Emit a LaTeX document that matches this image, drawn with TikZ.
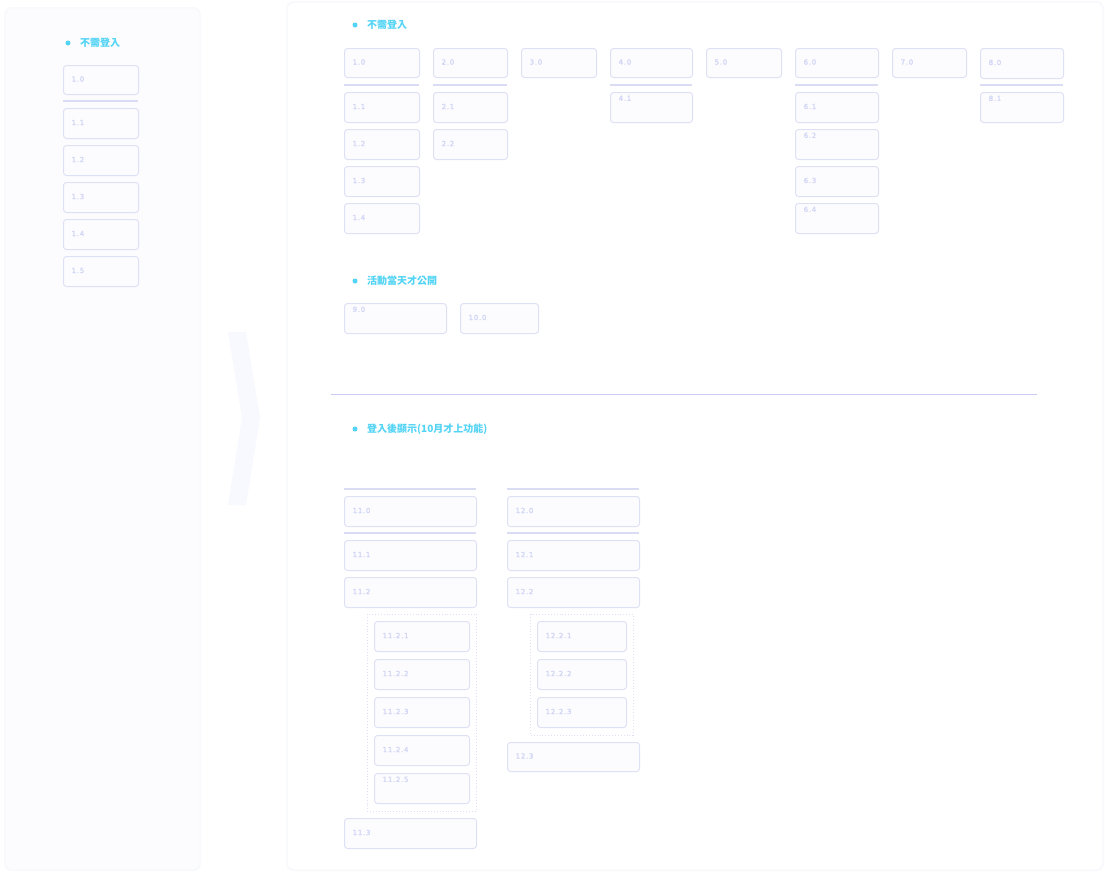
\documentclass[tikz,border=0pt]{standalone}
\usepackage{fontspec}
\setmainfont{Noto Sans CJK TC}
\newfontfamily\numfont[LetterSpace=10,FakeBold=1.5]{DejaVu Sans}
\definecolor{bord}{RGB}{222,224,246}
\definecolor{boxfill}{RGB}{252,252,255}
\definecolor{numc}{RGB}{208,213,245}
\definecolor{headc}{RGB}{84,212,245}
\definecolor{sepc}{RGB}{218,220,244}
\definecolor{divc}{RGB}{202,204,244}
\definecolor{panelc}{RGB}{252,252,254}
\definecolor{panelb}{RGB}{248,249,252}
\definecolor{chevc}{RGB}{247,249,254}
\tikzset{
  bx/.style={draw=bord, fill=boxfill, line width=1pt, rounded corners=3pt, inner sep=0pt},
  num/.style={text=numc, font=\numfont\fontsize{7}{9}\selectfont, inner sep=0pt},
  head/.style={text=headc, font=\fontsize{10}{12}\selectfont\bfseries, inner sep=0pt, anchor=west},
  dot/.style={fill=headc, circle, inner sep=0pt, minimum size=5pt},
  sepl/.style={draw=sepc, line width=1.6pt},
  dgrp/.style={draw=bord, dotted, line width=0.9pt},
}
\newcommand\bxn[6]{%
  \node[bx, anchor=north west, minimum width=\dimexpr #4pt-#2pt\relax, minimum height=\dimexpr #5pt-#3pt\relax] (#1) at (#2,#3) {};
  \node[num, anchor=west] (#1t) at ([xshift=8.5pt,yshift=1pt]#1.west) {#6};}
\newcommand\bxt[6]{%
  \node[bx, anchor=north west, minimum width=\dimexpr #4pt-#2pt\relax, minimum height=\dimexpr #5pt-#3pt\relax] (#1) at (#2,#3) {};
  \node[num, anchor=north west] (#1t) at ([xshift=8.5pt,yshift=-3.5pt]#1.north west) {#6};}
\begin{document}
\begin{tikzpicture}[x=1pt,y=-1pt]
\useasboundingbox[fill=white] (0,0) rectangle (1105,873);
% panels
\fill[panelb, rounded corners=8pt] (4,7) rectangle (201,871);
\fill[panelc, rounded corners=8pt] (5.5,8.5) rectangle (199.5,869.5);
\fill[panelb, rounded corners=8pt] (286,1) rectangle (1104,871);
\fill[white, rounded corners=8pt] (287.5,2.5) rectangle (1102.5,869.5);
% chevron
\fill[chevc] (228,332) -- (246,332) -- (260,418) -- (246,505) -- (228,505) -- (242,418) -- cycle;
% left column
\node[dot] (ld) at (68,43) {};
\node[head] (lh) at (80,43) {不需登入};
\bxn{l10}{63}{65}{138}{94}{1.0}
\draw[sepl] (63,101) -- (138,101);
\bxn{l11}{63}{108}{138}{138}{1.1}
\bxn{l12}{63}{145}{138}{175}{1.2}
\bxn{l13}{63}{182}{138}{212}{1.3}
\bxn{l14}{63}{219}{138}{249}{1.4}
\bxn{l15}{63}{256}{138}{286}{1.5}
% right section 1
\node[dot] (d1) at (355,25) {};
\node[head] (h1) at (367,25) {不需登入};
\bxn{a10}{344}{48}{419}{77}{1.0}
\bxn{a20}{433}{48}{507}{77}{2.0}
\bxn{a30}{521}{48}{596}{77}{3.0}
\bxn{a40}{610}{48}{692}{77}{4.0}
\bxn{a50}{706}{48}{781}{77}{5.0}
\bxn{a60}{795}{48}{878}{77}{6.0}
\bxn{a70}{892}{48}{966}{77}{7.0}
\bxn{a80}{980}{48}{1063}{78}{8.0}
\draw[sepl] (344,85) -- (419,85);
\draw[sepl] (433,85) -- (507,85);
\draw[sepl] (610,85) -- (692,85);
\draw[sepl] (795,85) -- (878,85);
\draw[sepl] (980,85) -- (1063,85);
\bxn{a11}{344}{92}{419}{122}{1.1}
\bxn{a21}{433}{92}{507}{122}{2.1}
\bxt{a41}{610}{92}{692}{122}{4.1}
\bxn{a61}{795}{92}{878}{122}{6.1}
\bxt{a81}{980}{92}{1063}{122}{8.1}
\bxn{a12}{344}{129}{419}{159}{1.2}
\bxn{a22}{433}{129}{507}{159}{2.2}
\bxt{a62}{795}{129}{878}{159}{6.2}
\bxn{a13}{344}{166}{419}{196}{1.3}
\bxn{a63}{795}{166}{878}{196}{6.3}
\bxn{a14}{344}{203}{419}{233}{1.4}
\bxt{a64}{795}{203}{878}{233}{6.4}
% section 2
\node[dot] (d2) at (355,281) {};
\node[head] (h2) at (367,281) {活動當天才公開};
\bxt{b90}{344}{303}{446}{333}{9.0}
\bxn{b100}{460}{303}{538}{333}{10.0}
% divider
\draw[divc, line width=1pt] (331,394) -- (1037,394);
% section 3
\node[dot] (d3) at (355,429) {};
\node[head] (h3) at (367,429) {登入後顯示(10月才上功能)};
\draw[sepl] (344,489) -- (476,489);
\draw[sepl] (507,489) -- (639,489);
\bxn{c110}{344}{496}{476}{526}{11.0}
\bxn{c120}{507}{496}{639}{526}{12.0}
\draw[sepl] (344,533) -- (476,533);
\draw[sepl] (507,533) -- (639,533);
\bxn{c111}{344}{540}{476}{570}{11.1}
\bxn{c121}{507}{540}{639}{570}{12.1}
\bxn{c112}{344}{577}{476}{607}{11.2}
\bxn{c122}{507}{577}{639}{607}{12.2}
\draw[dgrp] (367,614) rectangle (476,811);
\draw[dgrp] (530,614) rectangle (633,735);
\bxn{c1121}{374}{621}{469}{651}{11.2.1}
\bxn{c1122}{374}{659}{469}{689}{11.2.2}
\bxn{c1123}{374}{697}{469}{727}{11.2.3}
\bxn{c1124}{374}{735}{469}{765}{11.2.4}
\bxt{c1125}{374}{773}{469}{803}{11.2.5}
\bxn{c113}{344}{818}{476}{848}{11.3}
\bxn{c1221}{537}{621}{626}{651}{12.2.1}
\bxn{c1222}{537}{659}{626}{689}{12.2.2}
\bxn{c1223}{537}{697}{626}{727}{12.2.3}
\bxn{c123}{507}{742}{639}{771}{12.3}
\end{tikzpicture}
\end{document}
